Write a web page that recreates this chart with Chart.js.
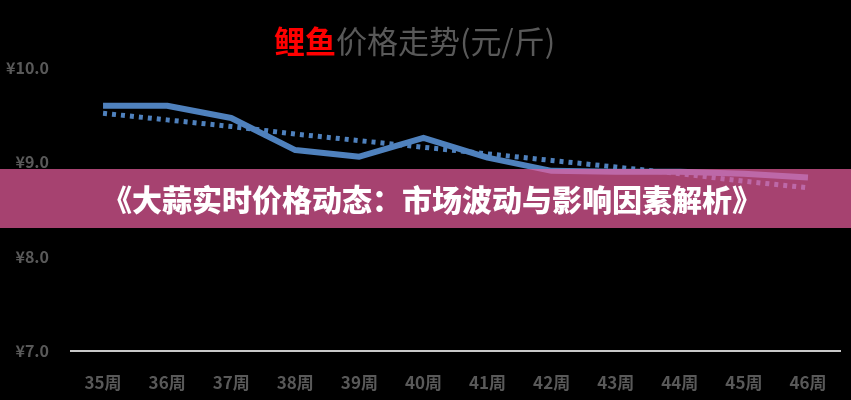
<!DOCTYPE html>
<html lang="zh">
<head>
    <meta charset="UTF-8">
    <title>鲤鱼价格走势</title>
    <script src="https://cdn.jsdelivr.net/npm/chart.js"></script>
    <style>
        body {
            margin: 0;
            padding: 0;
            background-color: #000000;
            font-family: "Noto Sans CJK SC", sans-serif;
        }

        .wrap {
            position: relative;
            width: 851px;
            height: 400px;
            overflow: hidden;
        }

        .title {
            position: absolute;
            top: 24px;
            left: 274px;
            font-size: 31px;
            line-height: 31px;
            color: #595959;
            white-space: nowrap;
        }

        .title span {
            color: #ff0000;
            font-weight: bold;
        }

        /* banner laid over the chart, partly see-through */
        .banner {
            position: absolute;
            top: 169px;
            left: 0;
            width: 851px;
            height: 59px;
            padding-left: 13px;
            box-sizing: border-box;
            background-color: rgba(236, 94, 160, 0.7);
            color: #ffffff;
            font-size: 30px;
            font-weight: 900;
            line-height: 58px;
            text-align: center;
            white-space: nowrap;
        }
    </style>
</head>
<body>
    <div class="wrap">
        <canvas id="priceChart" width="851" height="400"></canvas>
        <div class="title"><span>鲤鱼</span>价格走势(元/斤)</div>
        <div class="banner">《大蒜实时价格动态：市场波动与影响因素解析》</div>
    </div>

    <script>
        // data
        const weeks = ['35周', '36周', '37周', '38周', '39周', '40周', '41周', '42周', '43周', '44周', '45周', '46周'];
        const prices = [9.60, 9.60, 9.47, 9.13, 9.06, 9.26, 9.05, 8.91, 8.90, 8.90, 8.88, 8.84];
        const trend = [9.52, 9.45, 9.38, 9.30, 9.23, 9.16, 9.09, 9.02, 8.95, 8.88, 8.80, 8.73];
        const yMin = 7;
        const yMax = 10;

        const labelColor = '#595959';

        new Chart(document.getElementById('priceChart').getContext('2d'), {
            type: 'line',
            data: {
                labels: weeks,
                datasets: [{
                    label: '价格',
                    data: prices,
                    borderColor: '#4f81bd',
                    borderWidth: 6,
                    borderJoinStyle: 'round',
                    pointRadius: 0,
                    tension: 0
                }, {
                    label: '趋势',
                    data: trend,
                    borderColor: '#4f81bd',
                    borderWidth: 5,
                    borderDash: [4, 5],
                    borderCapStyle: 'butt',
                    pointRadius: 0,
                    tension: 0
                }]
            },
            options: {
                responsive: false,
                animation: false,
                layout: {
                    padding: { top: 68, right: 11, bottom: 8, left: 0 }
                },
                plugins: {
                    legend: { display: false },
                    title: { display: false },
                    tooltip: { enabled: false }
                },
                scales: {
                    x: {
                        offset: true,
                        grid: { color: 'rgba(0,0,0,0)', drawTicks: false },
                        border: { display: true, color: '#c8c8c8', width: 2 },
                        afterFit: scale => { scale.height = 41; },
                        ticks: {
                            color: labelColor,
                            padding: 21,
                            maxRotation: 0,
                            font: { family: 'Noto Sans CJK SC', size: 17, weight: 'bold' }
                        }
                    },
                    y: {
                        min: yMin,
                        max: yMax,
                        grid: { display: false, drawTicks: false },
                        border: { display: false },
                        afterFit: scale => { scale.width = 71; },
                        ticks: {
                            stepSize: 1,
                            color: labelColor,
                            padding: 22,
                            font: { family: 'Noto Sans CJK SC', size: 16, weight: 'bold' },
                            callback: value => '¥' + value.toFixed(1)
                        }
                    }
                }
            }
        });
    </script>
</body>
</html>
